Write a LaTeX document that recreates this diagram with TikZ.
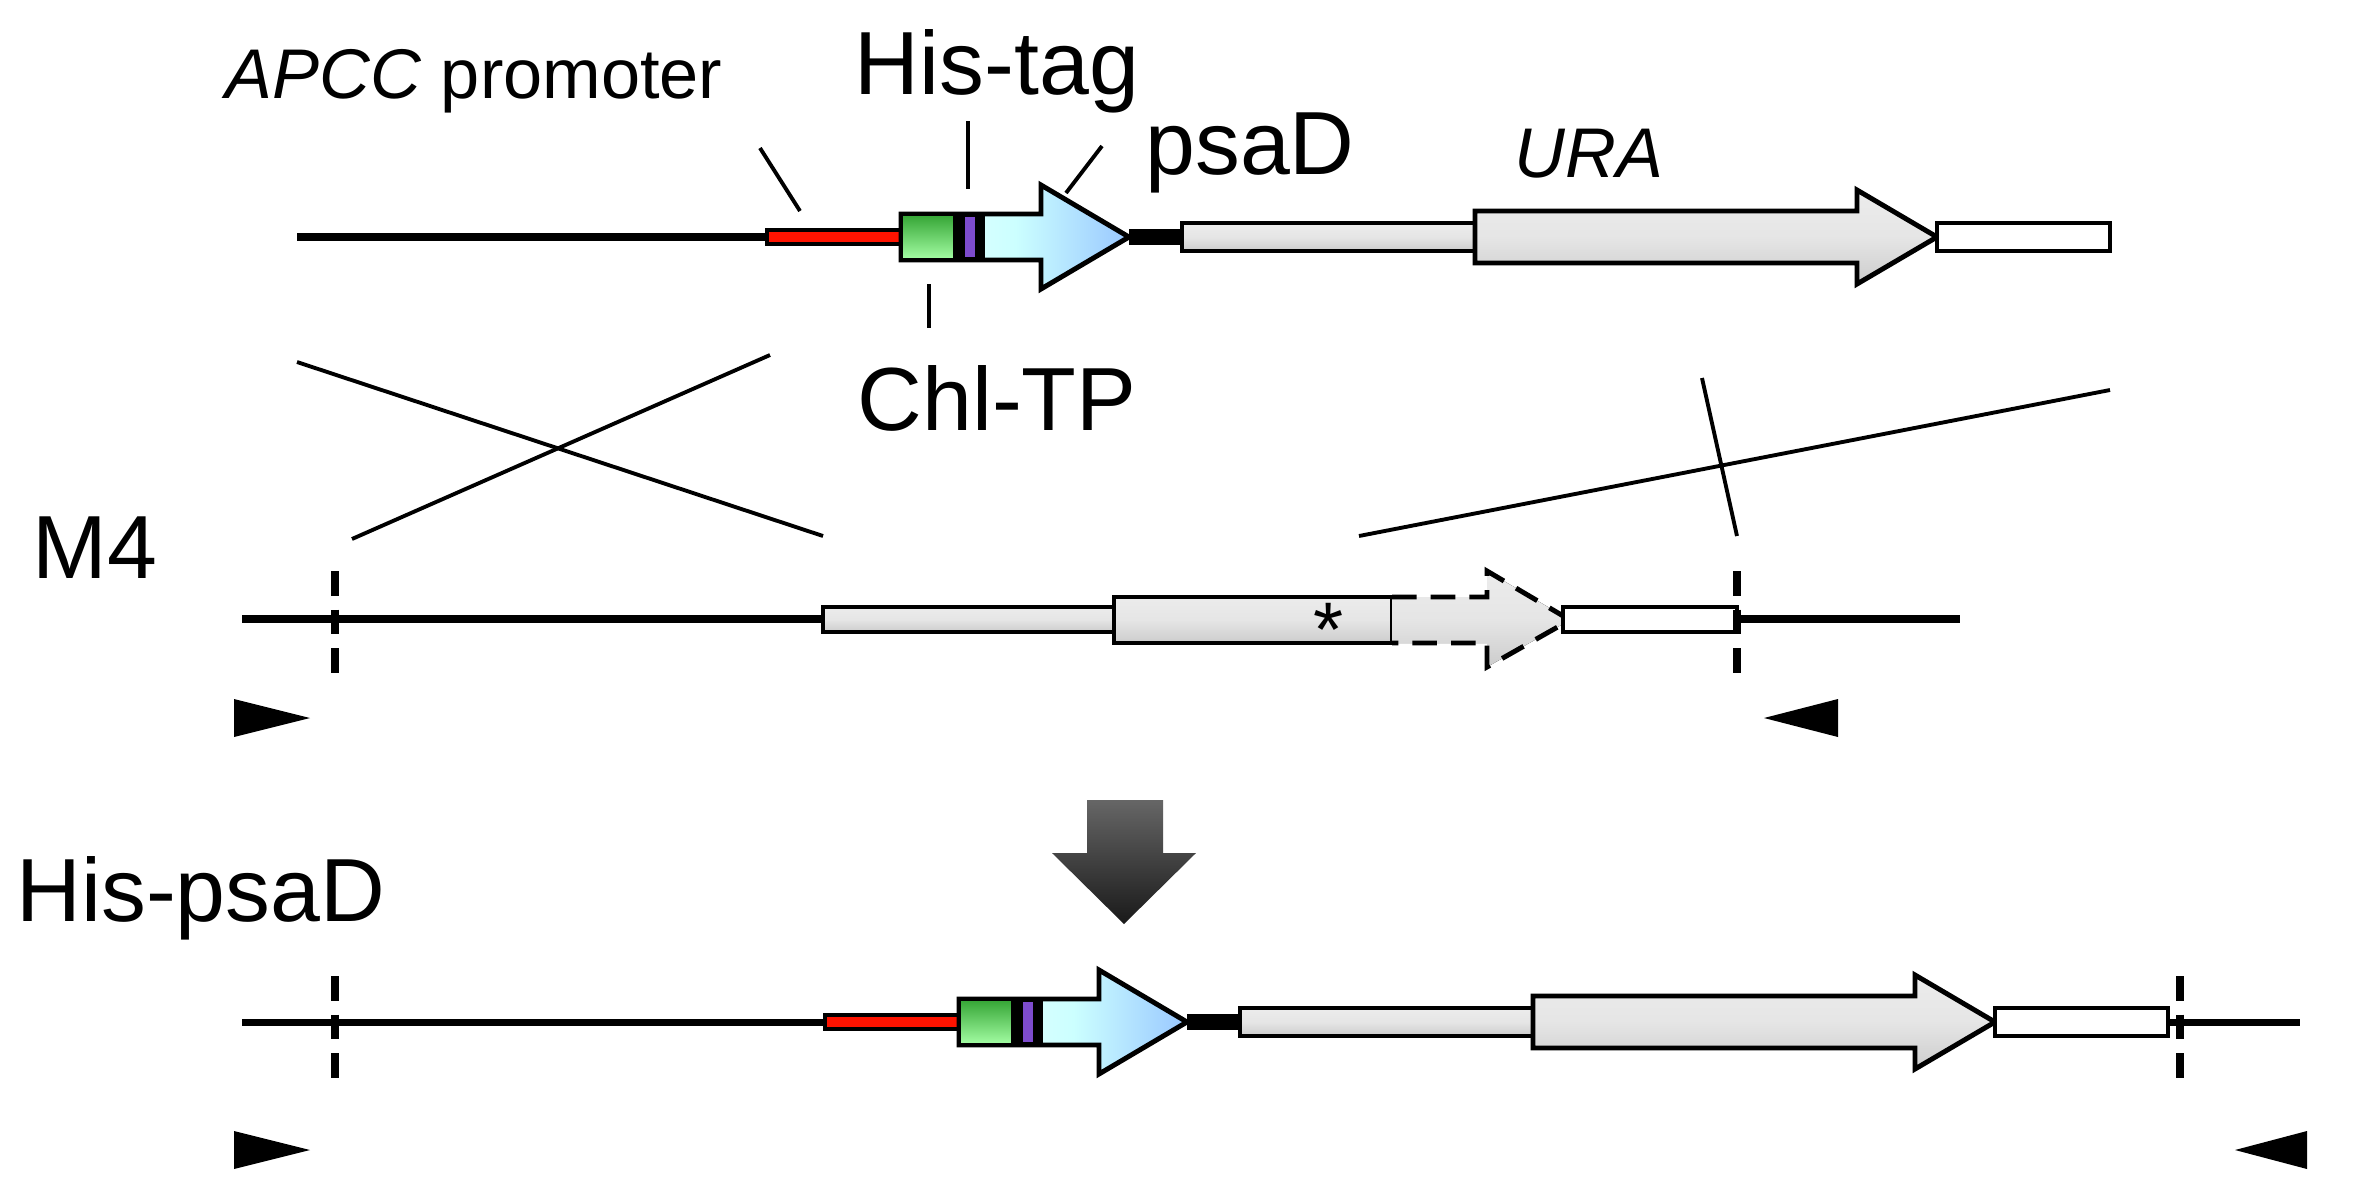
\documentclass[tikz,border=0pt]{standalone}
\usepackage{fontspec}
\setmainfont{Liberation Sans}
\tikzset{
  grayf/.style={top color=gray!15,bottom color=gray!40,middle color=gray!20},
  pics/construct/.style={code={
    \draw[line width=1.4pt,fill=red!85!orange] (0,-7) rectangle (134,7);
    \draw[line width=1.4pt,left color=cyan!8,right color=cyan!45!blue!40,middle color=cyan!20]
      (134,-23) -- (274,-23) -- (274,-52) -- (362,0) -- (274,52) -- (274,23) -- (134,23) -- cycle;
    \draw[line width=1.4pt,top color=green!55!black!80,bottom color=green!35!white] (134,-23) rectangle (188,23);
    \fill (188,-23) rectangle (218,23);
    \fill[blue!45!violet!70] (198,-20) rectangle (208,20);
    \fill (362,-8) rectangle (415,8);
    \draw[line width=1.4pt,grayf] (415,-14) rectangle (708,14);
    \draw[line width=1.4pt,grayf] (708,-26) -- (1090,-26) -- (1090,-47) -- (1170,0) -- (1090,47) -- (1090,26) -- (708,26) -- cycle;
    \draw[line width=1.4pt,fill=white] (1170,-14) rectangle (1343,14);
  }}
}
\begin{document}
\begin{tikzpicture}[x=0.01cm,y=-0.01cm,
  bb/.style={line width=2pt},
  ln/.style={line width=1.1pt},
  vdash/.style={line width=2.2pt,dash pattern=on 7pt off 4pt},
  big/.style={font=\fontsize{25.5}{28}\selectfont},
  small/.style={font=\fontsize{20}{22}\selectfont}]
\useasboundingbox[fill=white] (0,0) rectangle (2368,1193);
% Row 1
\draw[bb] (297,237) -- (767,237);
\pic at (767,237) {construct};
\node[small,anchor=base] (apcc) at (474,98) {\textit{APCC} promoter};
\node[big,anchor=base] (histag) at (997,94) {His-tag};
\node[big,anchor=base] (psad) at (1250,174) {psaD};
\node[big,anchor=base] (chltp) at (997,430) {Chl-TP};
\node[small,anchor=base] (ura) at (1589,177) {\textit{URA}};
\draw[ln] (760,148) -- (800,211);
\draw[ln] (968,121) -- (968,189);
\draw[ln] (929,284) -- (929,328);
\draw[ln] (1102,146) -- (1066,193);
% crossover lines
\draw[ln] (297,362) -- (823,536);
\draw[ln] (770,355) -- (352,539);
\draw[ln] (1359,536) -- (2110,390);
\draw[ln] (1702,378) -- (1737,536);
% Row 2
\node[big,anchor=base] (m4) at (95,578) {M4};
\draw[bb] (242,619) -- (823,619);
\draw[line width=1.4pt,grayf] (823,607) rectangle (1114,632);
\draw[line width=1.4pt,grayf] (1114,597) rectangle (1392,643);
\node[font=\fontsize{22}{22}\selectfont] (star) at (1329,630) {*};
\fill[grayf] (1392,597) -- (1487,597) -- (1487,571) -- (1570,620) -- (1487,667) -- (1487,643) -- (1392,643) -- cycle;
\draw[line width=1.4pt,dash pattern=on 7pt off 4pt] (1392,597) -- (1487,597) -- (1487,571) -- (1570,620) -- (1487,667) -- (1487,643) -- (1392,643);
\draw[line width=1.4pt,fill=white] (1563,607) rectangle (1737,632);
\draw[bb] (1737,619) -- (1960,619);
\draw[vdash] (335,571) -- (335,680);
\draw[vdash] (1737,571) -- (1737,680);
\fill (234,699) -- (310,718) -- (234,737) -- cycle;
\fill (1838,699) -- (1764,718) -- (1838,737) -- cycle;
% big arrow
\shade[top color=black!60,bottom color=black!90] (1087,800) -- (1163,800) -- (1163,853) -- (1196,853) -- (1124,924) -- (1052,853) -- (1087,853) -- cycle;
% Row 3
\node[big,anchor=base] (hispsad) at (201,921) {His-psaD};
\draw[bb] (242,1022) -- (825,1022);
\pic at (825,1022) {construct};
\draw[bb] (2168,1022) -- (2300,1022);
\draw[vdash] (335,976) -- (335,1078);
\draw[vdash] (2180,976) -- (2180,1078);
\fill (234,1131) -- (310,1150) -- (234,1169) -- cycle;
\fill (2307,1131) -- (2235,1150) -- (2307,1169) -- cycle;
\end{tikzpicture}
\end{document}
